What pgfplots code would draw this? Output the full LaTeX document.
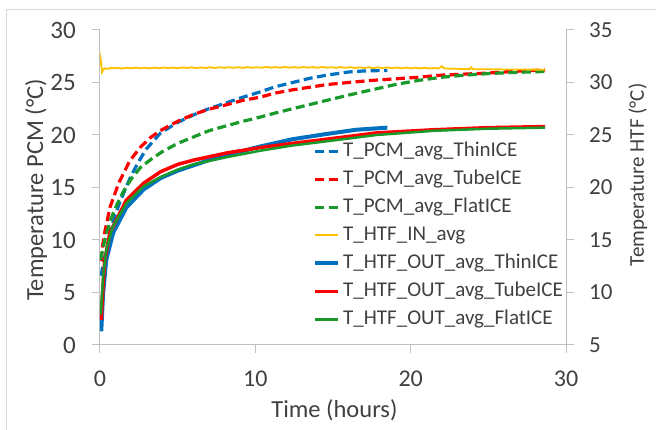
\documentclass[border=0pt]{standalone}
\usepackage{fontspec}
\setmainfont{Carlito}
\usepackage{pgfplots}
\pgfplotsset{compat=1.18}
\definecolor{axgray}{HTML}{BFBFBF}
\definecolor{txt}{HTML}{404040}
\definecolor{cblue}{HTML}{0070C0}
\definecolor{cred}{HTML}{FF0000}
\definecolor{cgreen}{HTML}{1A9A2A}
\definecolor{cyel}{HTML}{FFC000}
\definecolor{brd}{HTML}{D9D9D9}
\pgfplotsset{
  pcm/.style={dash pattern=on 9pt off 4.5pt, line width=3.2pt},
  base/.style={width=466pt,height=315pt,scale only axis,xmin=0,xmax=30,
    axis line style={draw=axgray,line width=1pt},
    tick style={draw=axgray,line width=1pt},
    major tick length=8pt, tick align=outside,
    /pgf/number format/assume math mode=true,
    ticklabel style={text=txt}, label style={text=txt}},
  legend image code/.code={\draw[#1] (0pt,0pt) -- (23pt,0pt);}
}
\begin{document}
\begin{tikzpicture}
\useasboundingbox (-100pt,-85pt) rectangle (556pt,345pt);
\draw[brd, line width=1pt] (-93pt,-85pt) -- (-93pt,335pt) -- (556pt,335pt);
\begin{axis}[base, ymin=0, ymax=30,
  axis x line*=bottom, axis y line*=left,
  xtick={0,10,20,30}, ytick={0,5,...,30},
  xticklabel style={font=\fontsize{24}{28}\selectfont, anchor=north, inner sep=0pt, yshift=-18pt},
  yticklabel style={font=\fontsize{25}{29}\selectfont, anchor=east, inner sep=0pt, xshift=-16pt},
  xlabel={Time (hours)},
  xlabel style={font=\fontsize{24.5}{29}\selectfont, at={(axis description cs:0.503,-0.2317)}, anchor=base},
  ylabel={Temperature PCM (°C)},
  ylabel style={font=\fontsize{24.5}{29}\selectfont, at={(axis description cs:-0.137,0.492)}, anchor=center, rotate=0},
]
\addplot[cblue, pcm] coordinates {
(0.08,6.6) (0.2,7.8) (0.43,9.0) (0.64,10.7) (0.9,12.0) (1.2,13.3) (1.7,15.1) (2.0,16.1) (2.5,17.5) (3.0,18.7) (3.9,20.2) (5.0,21.2) (6.0,21.9) (7.0,22.5) (8.2,23.1) (9.2,23.6) (10.3,24.1) (11.3,24.6) (12.4,25.0) (13.5,25.4) (14.6,25.7) (16.0,26.0) (17.0,26.1) (18.5,26.15)
};
\addplot[cred, pcm] coordinates {
(0.08,8.0) (0.15,9.3) (0.3,10.7) (0.64,13.1) (1.2,15.4) (1.9,17.5) (2.58,18.8) (3.2,19.7) (3.86,20.4) (5.0,21.3) (6.0,21.95) (7.0,22.45) (8.2,22.9) (9.2,23.3) (10.3,23.6) (11.3,24.0) (12.4,24.3) (13.5,24.55) (14.6,24.8) (16.0,25.0) (17.5,25.2) (19.0,25.35) (20.5,25.5) (22.0,25.7) (23.5,25.8) (25.0,25.9) (26.5,26.05) (28.65,26.2)
};
\addplot[cgreen, pcm] coordinates {
(0.03,8.1) (0.2,9.3) (0.43,10.7) (0.7,12.0) (1.1,13.4) (1.5,14.6) (2.0,15.8) (2.6,16.9) (3.3,17.7) (4.0,18.4) (5.0,19.2) (6.0,19.8) (7.0,20.4) (8.2,20.9) (9.2,21.3) (10.3,21.7) (11.3,22.1) (12.4,22.5) (13.5,22.9) (14.6,23.3) (16.0,23.8) (17.5,24.3) (19.0,24.8) (20.5,25.2) (22.0,25.5) (23.5,25.7) (25.0,25.85) (26.5,25.95) (28.65,26.05)
};
\end{axis}
\begin{axis}[base, ymin=5, ymax=35,
  axis x line=none, axis y line*=right,
  ytick={5,10,...,35},
  yticklabel style={font=\fontsize{23}{27}\selectfont, anchor=west, inner sep=0pt, xshift=15pt},
  ylabel={Temperature HTF (°C)},
  ylabel style={font=\fontsize{21}{25}\selectfont, at={(axis description cs:1.154,0.54)}, anchor=center, rotate=0},
  legend cell align=left,
  legend style={at={(rel axis cs:0.457,0.647)}, anchor=north west, draw=none, fill=none,
    inner sep=0pt, font=\fontsize{21}{25}\selectfont, text=txt, row sep=8pt,
    nodes={inner sep=0pt, text height=15pt, text depth=5pt},
    /tikz/every odd column/.style={column sep=3pt}},
]
\addlegendimage{cblue, pcm}
\addlegendentry{T\_PCM\_avg\_ThinICE}
\addlegendimage{cred, pcm}
\addlegendentry{T\_PCM\_avg\_TubeICE}
\addlegendimage{cgreen, pcm}
\addlegendentry{T\_PCM\_avg\_FlatICE}
\addplot[cyel, line width=1.8pt] coordinates {
(0,31.6) (0.03,32.3) (0.08,31.9) (0.13,31.0) (0.2,31.2) (0.3,31.35) (0.5,31.3) (0.7,31.4) (0.9,31.35) (1.1,31.4) (1.4,31.32) (1.7,31.4) (2.0,31.36) (2.3,31.42) (2.6,31.35) (2.9,31.4) (3.2,31.34) (3.5,31.42) (3.8,31.36) (4.1,31.43) (4.4,31.37) (4.7,31.42) (5.0,31.36) (5.3,31.44) (5.6,31.38) (5.9,31.45) (6.2,31.37) (6.5,31.44) (6.8,31.38) (7.1,31.46) (7.4,31.38) (7.7,31.45) (8.0,31.39) (8.3,31.46) (8.6,31.4) (8.9,31.46) (9.2,31.39) (9.5,31.47) (9.8,31.4) (10.1,31.46) (10.4,31.4) (10.7,31.48) (11.0,31.41) (11.3,31.47) (11.6,31.4) (11.9,31.48) (12.2,31.41) (12.5,31.47) (12.8,31.4) (13.1,31.48) (13.4,31.41) (13.7,31.47) (14.0,31.4) (14.3,31.48) (14.6,31.41) (14.9,31.46) (15.2,31.39) (15.5,31.47) (15.8,31.4) (16.1,31.46) (16.4,31.38) (16.7,31.45) (17.0,31.38) (17.3,31.45) (17.6,31.37) (17.9,31.44) (18.2,31.37) (18.5,31.44) (18.8,31.36) (19.1,31.43) (19.4,31.35) (19.7,31.42) (20.0,31.34) (20.3,31.41) (20.6,31.34) (20.9,31.4) (21.2,31.33) (21.5,31.38) (21.8,31.33) (22.0,31.55) (22.15,31.35) (22.5,31.32) (22.8,31.3) (23.1,31.3) (23.5,31.28) (23.8,31.27) (23.9,31.45) (24.0,31.27) (24.5,31.26) (25.5,31.25) (26.5,31.24) (27.5,31.23) (28.65,31.22)
};
\addlegendentry{T\_HTF\_IN\_avg}
\addplot[cblue, line width=4pt] coordinates {
(0.08,6.3) (0.2,9.9) (0.4,13.1) (0.85,15.7) (1.7,18.1) (2.8,19.8) (3.9,20.9) (5.0,21.6) (6.0,22.1) (7.0,22.6) (8.2,23.1) (10.3,23.9) (12.4,24.6) (14.6,25.1) (16.5,25.5) (18.5,25.7)
};
\addlegendentry{T\_HTF\_OUT\_avg\_ThinICE}
\addplot[cred, line width=3.5pt] coordinates {
(0.08,7.4) (0.15,9.5) (0.3,13.0) (0.64,15.7) (1.7,18.8) (2.8,20.4) (3.9,21.5) (5.0,22.2) (6.0,22.6) (8.2,23.3) (10.3,23.8) (12.4,24.2) (14.6,24.6) (17.8,25.2) (21.5,25.5) (25.0,25.7) (28.65,25.8)
};
\addlegendentry{T\_HTF\_OUT\_avg\_TubeICE}
\addplot[cgreen, line width=2.5pt] coordinates {
(0.05,7.9) (0.2,11.5) (0.4,14.0) (0.8,16.2) (1.7,18.5) (2.8,20.1) (3.9,21.0) (5.0,21.7) (6.0,22.2) (8.2,22.9) (10.3,23.5) (12.4,24.0) (14.6,24.4) (17.8,25.0) (21.5,25.4) (25.0,25.6) (28.65,25.7)
};
\addlegendentry{T\_HTF\_OUT\_avg\_FlatICE}
\end{axis}
\end{tikzpicture}
\end{document}
